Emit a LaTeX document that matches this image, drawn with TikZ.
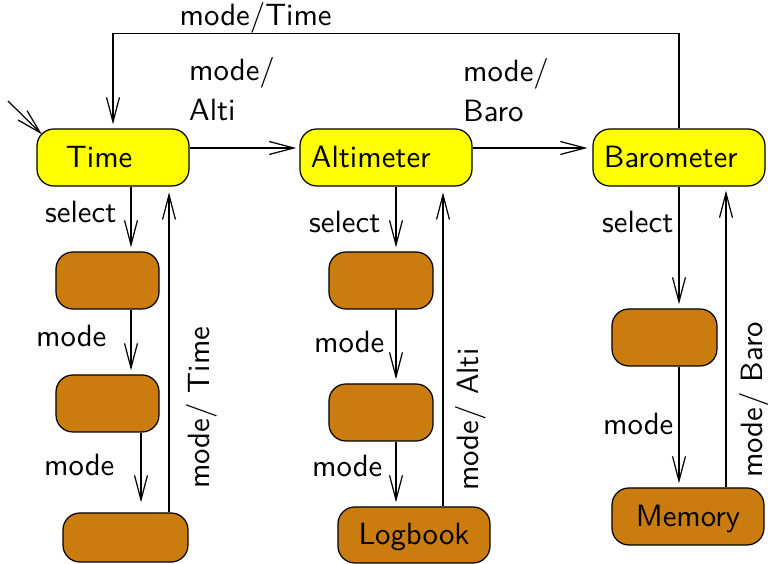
\documentclass[tikz,border=0pt]{standalone}
\usetikzlibrary{arrows.meta}
\definecolor{stateyellow}{RGB}{255,255,0}
\definecolor{statebrown}{RGB}{202,124,14}
\begin{document}
\begin{tikzpicture}[x=0.325pt,y=-0.325pt,
  font=\sffamily,
  box/.style={draw, line width=0.4pt, rounded corners=5.5pt, inner xsep=3.575pt, inner ysep=0pt, text height=6.5pt, text depth=0pt},
  ybox/.style={box, fill=stateyellow, minimum height=18.525pt, align=left},
  bbox/.style={box, fill=statebrown, minimum height=18.525pt},
  arr/.style={draw, line width=0.4pt, -{Straight Barb[length=8pt,width=4.2pt]}, shorten >=1.3pt},
  lbl/.style={inner sep=0pt, anchor=base east},
  rlbl/.style={inner sep=0pt, anchor=center}]
\useasboundingbox (0,0) rectangle (768,564);

% states
\node[ybox, text width=42.25pt] (time) at (113,157.5) {\hspace*{5.85pt}Time};
\node[ybox, text width=48.75pt] (alti) at (386,157.5) {Altimeter};
\node[ybox, text width=48.75pt] (baro) at (679,157.5) {Barometer};

\node[bbox, minimum width=33.475pt] (t1) at (107.5,280.5) {};
\node[bbox, minimum width=33.475pt] (t2) at (107.5,403.5) {};
\node[bbox, minimum width=40.625pt, minimum height=15.925pt] (t3) at (125.5,537.5) {};
\node[bbox, minimum width=33.8pt] (a1) at (381,280.5) {};
\node[bbox, minimum width=33.8pt] (a2) at (381,412.5) {};
\node[bbox, minimum width=49.4pt, minimum height=18.2pt] (log) at (414,535) {Logbook};
\node[bbox, minimum width=34.125pt] (b1) at (664.5,337.5) {};
\node[bbox, minimum width=49.4pt] (mem) at (688,516.5) {Memory};

% connector columns
\coordinate (xT) at (131,0);
\coordinate (xT2) at (141,0);
\coordinate (xTr) at (169,0);
\coordinate (xA) at (396,0);
\coordinate (xAr) at (443,0);
\coordinate (xB) at (679,0);
\coordinate (xBr) at (726,0);
\coordinate (init) at (8,101);

% initial
\draw[arr, shorten >=0pt] (init) -- ([shift={(5.5,6)}]time.north west);

% Time column
\draw[arr] (time.south -| xT) -- node[lbl,pos=0.561,xshift=-4.55pt] (l1) {select} (t1.north -| xT);
\draw[arr] (t1.south -| xT) -- node[lbl,pos=0.576,xshift=-7.8pt] (l2) {mode} (t2.north -| xT);
\draw[arr, shorten >=3.25pt] (t2.south -| xT2) -- node[lbl,pos=0.543,xshift=-8.45pt] (l3) {mode} (t3.north -| xT2);
\draw[arr, shorten >=1.9pt] (t3.north -| xTr) -- node[rlbl,pos=0.321,xshift=10.7pt,rotate=90] (l4) {mode/ Time} (time.south -| xTr);

% Altimeter column
\draw[arr] (alti.south -| xA) -- node[lbl,pos=0.712,xshift=-4.875pt] (l5) {select} (a1.north -| xA);
\draw[arr] (a1.south -| xA) -- node[lbl,pos=0.587,xshift=-3.575pt] (l6) {mode} (a2.north -| xA);
\draw[arr] (a2.south -| xA) -- node[lbl,pos=0.545,xshift=-4.225pt] (l7) {mode} (log.north -| xA);
\draw[arr, shorten >=1.9pt] (log.north -| xAr) -- node[rlbl,pos=0.271,xshift=8.94pt,rotate=90] (l8) {mode/ Alti} (alti.south -| xAr);

% Barometer column
\draw[arr] (baro.south -| xB) -- node[lbl,pos=0.374,xshift=-1.625pt] (l9) {select} (b1.north -| xB);
\draw[arr] (b1.south -| xB) -- node[lbl,pos=0.566,xshift=-1.625pt] (l10) {mode} (mem.north -| xB);
\draw[arr] (mem.north -| xBr) -- node[rlbl,pos=0.291,xshift=9.425pt,rotate=90] (l11) {mode/ Baro} (baro.south -| xBr);

% horizontal transitions
\draw[arr, shorten >=1pt] ([yshift=3.0875pt]time.east) -- node[pos=0, anchor=south west, inner sep=0pt, align=left, xshift=-0.325pt, yshift=8.775pt] (l12) {mode/\\[0.7pt]Alti} ([yshift=3.0875pt]alti.west);
\draw[arr, shorten >=1.6pt] ([yshift=3.0875pt]alti.east) -- node[pos=0, anchor=south west, inner sep=0pt, align=left, xshift=-3.25pt, yshift=8.45pt] (l13) {mode/\\[0.7pt]Baro} ([yshift=3.0875pt]baro.west);

% return to Time
\draw[arr] (baro.north) -- ++(0,-95) -| node[pos=0.374, anchor=south, inner sep=0pt] (l14) {mode/Time} (time.north);
\end{tikzpicture}
\end{document}
